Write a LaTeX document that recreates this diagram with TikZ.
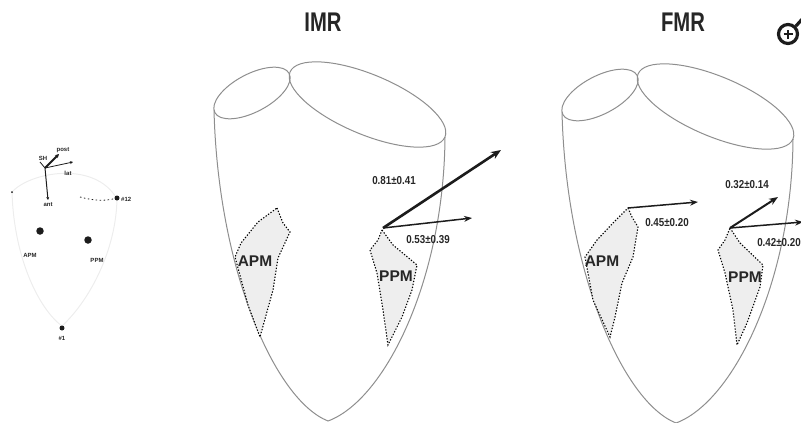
\documentclass[tikz,border=0pt]{standalone}
\usepackage{fontspec}
\setmainfont{Liberation Sans}
\usetikzlibrary{arrows.meta}
\definecolor{wallgray}{HTML}{8E8E8E}
\definecolor{regionfill}{HTML}{EEEEEE}
\definecolor{vecdark}{HTML}{1C1C1C}
\definecolor{faintgray}{HTML}{EDEDED}
\definecolor{inkgray}{HTML}{262626}
\begin{document}
\begin{tikzpicture}[x=1pt,y=-1pt,
  wall/.style={draw=wallgray,line width=1pt},
  region/.style={draw=black,fill=regionfill,line width=1.1pt,dash pattern=on 1.3pt off 1.7pt},
  bigvec/.style={draw=vecdark,line width=2.6pt,-{Stealth[length=10pt,width=8pt]}},
  midvec/.style={draw=vecdark,line width=2pt,-{Stealth[length=9pt,width=7pt]}},
  thinvec/.style={draw=vecdark,line width=1.5pt,-{Stealth[length=8pt,width=6pt]}},
  title/.style={text=inkgray,inner sep=0pt,font=\fontsize{27}{27}\selectfont\bfseries},
  pmlabel/.style={text=inkgray,inner sep=0pt,font=\fontsize{15.5}{15.5}\selectfont\bfseries},
  value/.style={text=inkgray,inner sep=0pt,font=\fontsize{11.5}{11.5}\selectfont\bfseries},
  tiny/.style={text=inkgray,inner sep=0pt,font=\fontsize{6}{6}\selectfont\bfseries},
  dot/.style={circle,fill=vecdark,inner sep=0pt,minimum size=#1},
  faint/.style={draw=faintgray,line width=1pt},
  lvshell/.pic={
    % mitral and aortic rings on top, ventricular wall below
    \draw[wall,rotate around={27.8:(252,93)}] (252,93) ellipse [x radius=42pt,y radius=19pt];
    \draw[wall,rotate around={-22.75:(367.5,104.5)}] (367.5,104.5) ellipse [x radius=84pt,y radius=30pt];
    \draw[wall] (214,110) .. controls (218,270) and (275,400) .. (328,421)
                .. controls (385,400) and (444,280) .. (445,137);
  }
]
\useasboundingbox (0,0) rectangle (801,423);

% ---------------- reference coordinate frame (small heart) ----------------
\draw[faint] (12,192) .. controls (14,260) and (40,310) .. (62,326)
             .. controls (90,300) and (116,250) .. (117,199);
\draw[faint] (12,192) .. controls (30,172) and (95,160) .. (117,199);
\coordinate (ax) at (45,168);
\coordinate (axPost) at (59,154);
\coordinate (axLat) at (73,162);
\coordinate (axSH) at (40,162);
\coordinate (axAnt) at (48,200);
\draw[vecdark,line width=1.8pt,-{Stealth[length=4pt,width=4pt]}] (ax) -- (axPost);
\draw[vecdark,line width=0.8pt,-{Stealth[length=3pt,width=3pt]}] (ax) -- (axLat);
\draw[vecdark,line width=0.8pt] (ax) -- (axSH);
\draw[vecdark,line width=1pt,-{Stealth[length=3pt,width=3pt]}] (ax) -- (axAnt);
\node[tiny] (tPost) at (63,150) {post};
\node[tiny] (tSH) at (43,158) {SH};
\node[tiny] (tLat) at (68,173) {lat};
\node[tiny] (tAnt) at (48,205) {ant};
\node[dot=2pt] (d0) at (12,192) {};
\node[dot=5pt] (d12) at (117,198) {};
\draw[vecdark,line width=0.8pt,dash pattern=on 1.5pt off 2.5pt] (80,197) .. controls (95,201) and (105,201) .. (d12);
\node[tiny,anchor=west] (t12) at (121,199) {\#12};
\node[dot=7.5pt] (dA) at (40,231) {};
\node[tiny] (tA) at (30,255) {APM};
\node[dot=7.5pt] (dP) at (88,240) {};
\node[tiny] (tP) at (97,260) {PPM};
\node[dot=5pt] (d1) at (62,328) {};
\node[tiny] (t1) at (62,338) {\#1};

% ---------------- IMR ----------------
\node[title] (imrTitle) at (323,22) {\scalebox{0.75}[1]{IMR}};
\pic at (0,0) {lvshell};
\draw[region] (277,208) -- (283,223) -- (290,232) -- (278,258) -- (273,290) -- (260,337)
  -- (248,305) -- (235,257) -- (241,243) -- (258,222) -- cycle;
\draw[region] (382,230) -- (393,245) -- (417,265) -- (412,290) -- (402,317) -- (388,345)
  -- (383,310) -- (377,273) -- (370,250) -- (378,240) -- cycle;
\node[pmlabel] (imrAPM) at (255,261) {APM};
\node[pmlabel] (imrPPM) at (396,276) {PPM};
\coordinate (imrO) at (383,228);
\coordinate (imrLong) at (501,150);
\coordinate (imrShort) at (472,218);
\draw[bigvec] (imrO) -- (imrLong);
\draw[thinvec] (imrO) -- (imrShort);
\node[value] (imrV1) at (394,181) {\scalebox{0.85}[1]{0.81±0.41}};
\node[value] (imrV2) at (428,240) {\scalebox{0.85}[1]{0.53±0.39}};

% ---------------- FMR ----------------
\node[title] (fmrTitle) at (683,22) {\scalebox{0.75}[1]{FMR}};
\pic at (348,2) {lvshell};
\draw[region] (628,208) -- (632,217) -- (638,227) -- (633,257) -- (622,283) -- (615,317)
  -- (610,337) -- (593,300) -- (585,257) -- (597,240) -- (613,223) -- cycle;
\draw[region] (730,228) -- (740,243) -- (763,265) -- (760,287) -- (747,323) -- (737,345)
  -- (733,310) -- (725,273) -- (718,250) -- (725,240) -- cycle;
\node[pmlabel] (fmrAPM) at (602,261) {APM};
\node[pmlabel] (fmrPPM) at (745,277) {PPM};
\coordinate (fmrAO) at (628,208);
\coordinate (fmrATip) at (698,202);
\draw[thinvec] (fmrAO) -- (fmrATip);
\coordinate (fmrPO) at (730,228);
\coordinate (fmrPLong) at (778,197);
\coordinate (fmrPShort) at (803,222);
\draw[midvec] (fmrPO) -- (fmrPLong);
\draw[thinvec] (fmrPO) -- (fmrPShort);
\node[value] (fmrV1) at (667,223) {\scalebox{0.85}[1]{0.45±0.20}};
\node[value] (fmrV2) at (747,185) {\scalebox{0.85}[1]{0.32±0.14}};
\node[value] (fmrV3) at (779,243) {\scalebox{0.85}[1]{0.42±0.20}};

% ---------------- male symbol ----------------
\node[circle,draw=vecdark,line width=3.2pt,minimum size=19pt,inner sep=0pt] (male) at (788,34) {};
\draw[vecdark,line width=1.8pt] ([xshift=-4.5pt]male.center) -- ([xshift=4.5pt]male.center);
\draw[vecdark,line width=1.8pt] ([yshift=-4.5pt]male.center) -- ([yshift=4.5pt]male.center);
\coordinate (maleTip) at (805,16);
\draw[vecdark,line width=3.2pt] (male.45) -- (maleTip);
\end{tikzpicture}
\end{document}
